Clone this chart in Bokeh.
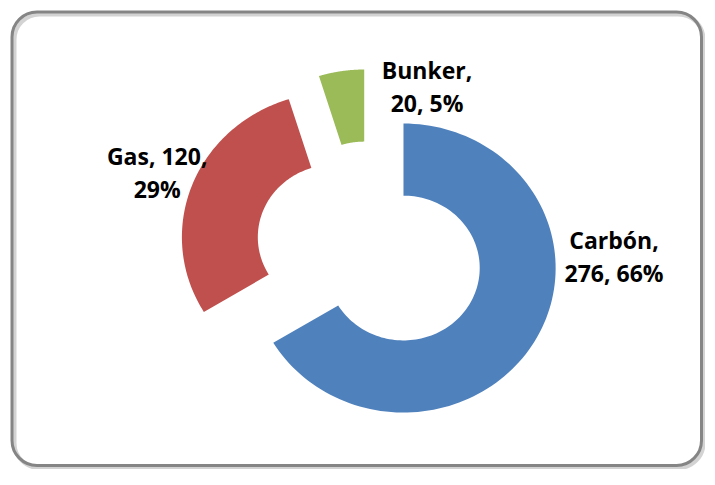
import numpy as np
from bokeh.plotting import figure
from bokeh.models import ColumnDataSource, Range1d, BoxAnnotation
from bokeh.core.properties import value
from bokeh.embed import file_html
from bokeh.resources import INLINE

# ---- data ----
categories = ["Carbón", "Gas", "Bunker"]
values = [276, 120, 20]
colors = ["#4F81BD", "#C0504D", "#9BBB59"]

total = sum(values)
pcts = [round(v / total * 100) for v in values]

# ---- layout (pixels, y downwards) ----
W, H = 705, 469
CX, CY = 369.5, 249.6      # un-exploded centre
R_OUT, R_IN = 144.5, 72.4  # vertical radii
SX = 1.053                 # horizontal stretch of the picture
EXPLODE = 36.5

p = figure(width=W, height=H, output_backend="svg", toolbar_location=None,
           x_axis_type=None, y_axis_type=None,
           x_range=Range1d(0, W), y_range=Range1d(H, 0),
           min_border=0, outline_line_color=None,
           background_fill_color="white", border_fill_color="white")

# frame with soft shadow
shadow = BoxAnnotation(left=14, right=703, top=14, bottom=467.5,
                       fill_alpha=0, line_color="#c8c8c8", line_alpha=0.8,
                       line_width=4, border_radius=25)
frame = BoxAnnotation(left=11.5, right=701, top=11.5, bottom=465,
                      fill_alpha=0, line_color="#858585", line_alpha=1.0,
                      line_width=3, border_radius=25)
p.add_layout(shadow)
p.add_layout(frame)

# donut slices (clockwise from 12 o'clock), each exploded along its bisector
xs, ys = [], []
cum = 0.0
for v in values:
    a0 = cum / total * 2 * np.pi
    cum += v
    a1 = cum / total * 2 * np.pi
    mid = (a0 + a1) / 2
    cx = CX + SX * EXPLODE * np.sin(mid)
    cy = CY - EXPLODE * np.cos(mid)
    t = np.linspace(a0, a1, 120)
    ox = cx + SX * R_OUT * np.sin(t)
    oy = cy - R_OUT * np.cos(t)
    ix = cx + SX * R_IN * np.sin(t[::-1])
    iy = cy - R_IN * np.cos(t[::-1])
    xs.append(list(np.concatenate([ox, ix])))
    ys.append(list(np.concatenate([oy, iy])))

src = ColumnDataSource(dict(xs=xs, ys=ys, color=colors, name=categories))
p.patches("xs", "ys", source=src, fill_color="color", line_color=None)

# labels
label_x = [613.5, 156.7, 426.5]
label_y = [239.3, 155.5, 69.3]
LINE_GAP = 33

line1 = [f"{c}," for c in categories]
line2 = [f"{v}, {q}%" for v, q in zip(values, pcts)]
# Gas label wraps after the value
line1[1] = f"{categories[1]}, {values[1]},"
line2[1] = f"{pcts[1]}%"

lsrc = ColumnDataSource(dict(x=label_x, y1=label_y,
                             y2=[y + LINE_GAP for y in label_y],
                             t1=line1, t2=line2))
for ycol, tcol in (("y1", "t1"), ("y2", "t2")):
    p.text("x", ycol, text=tcol, source=lsrc,
           text_font=value("Open Sans"), text_font_style="bold",
           text_font_size="23px", text_color="#000000",
           text_align="center", text_baseline="alphabetic")

open("out.html", "w").write(file_html(p, INLINE))
